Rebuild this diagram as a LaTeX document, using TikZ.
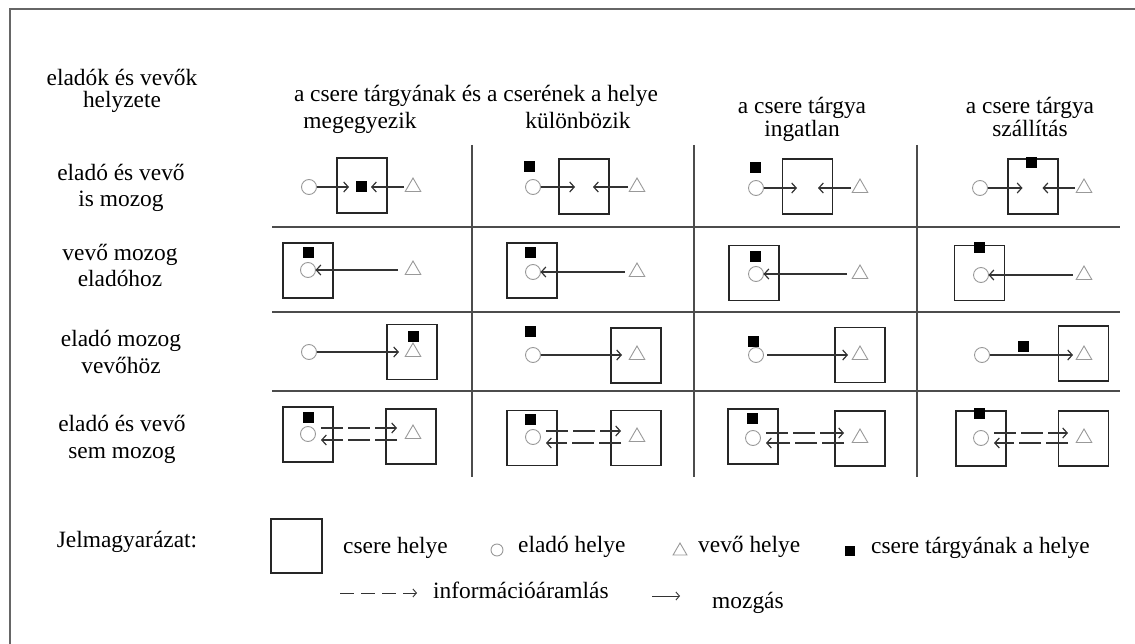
\documentclass[tikz,border=0pt]{standalone}
\usepackage{fontspec}
\setmainfont{Liberation Serif}
\usetikzlibrary{arrows.meta,shapes.geometric}

\begin{document}
\begin{tikzpicture}[x=1pt,y=-1pt,
    felirat/.style={align=center,font=\fontsize{23.4}{26.5}\selectfont,inner sep=0pt,anchor=base},
    fejlec/.style={felirat,font=\fontsize{23.4}{23}\selectfont},
    racs/.style={draw=black!70,line width=1.4pt},
    hely/.style={draw=black!85,line width=1.4pt,minimum width=50pt,minimum height=55pt,inner sep=0pt},
    elado/.style={circle,draw=black!40,line width=0.9pt,minimum size=15pt,inner sep=0pt},
    vevo/.style={regular polygon,regular polygon sides=3,draw=black!40,line width=0.9pt,minimum size=18pt,inner sep=0pt},
    targy/.style={fill=black,minimum size=11pt,inner sep=0pt},
    mozgas/.style={draw=black!80,line width=1.2pt,-{Straight Barb[length=4.5pt,width=10pt]}},
    info/.style={mozgas,dash pattern=on 22pt off 5pt}]
  \useasboundingbox (0,0) rectangle (1135,644);
  \draw[black!60,line width=1.5pt] (1135,9) -- (10,9) -- (10,644);

  % fejlec
  \node[fejlec,font=\fontsize{23.4}{22}\selectfont] (helyzet) at (122,108) {eladók és vevők\\helyzete};
  \node[felirat] (targyhely) at (476,102) {a csere tárgyának és a cserének a helye};
  \node[felirat] (megegyezik) at (360,129) {megegyezik};
  \node[felirat] (kulonbozik) at (578,129) {különbözik};
  \node[fejlec] (ingatlan) at (802,137) {a csere tárgya\\ingatlan};
  \node[fejlec] (szallitas) at (1030,137) {a csere tárgya\\szállítás};

  \node[felirat] (sor1) at (121,207) {eladó és vevő\\is mozog};
  \node[felirat] (sor2) at (120,287) {vevő mozog\\eladóhoz};
  \node[felirat] (sor3) at (121,373) {eladó mozog\\vevőhöz};
  \node[felirat] (sor4) at (122,458) {eladó és vevő\\sem mozog};

  \foreach \x in {472,694,917}
    \draw[racs] (\x,145) -- (\x,477);
  \foreach \y in {227,312,391}
    \draw[racs] (272,\y) -- (1120,\y);

  % 1. sor
  \node[hely] (h11) at (362,185.5) {};
  \node[elado] (e11) at (309,187) {};
  \node[vevo] (v11) at (413,187) {};
  \node[targy] (t11) at (361,187) {};
  \draw[mozgas,shorten <=7.5pt,shorten >=12pt] (e11.center) -- (t11.center);
  \draw[mozgas,shorten <=9pt,shorten >=10pt] (v11.center) -- (t11.center);

  \node[hely] (h12) at (584,186.5) {};
  \node[elado] (e12) at (533,187) {};
  \node[vevo] (v12) at (637,187) {};
  \node[targy] (t12) at (529,167) {};
  \draw[mozgas,shorten <=7.5pt,shorten >=9pt] (e12.center) -- (e12 -| h12);
  \draw[mozgas,shorten <=9pt,shorten >=9pt] (v12.center) -- (v12 -| h12);

  \node[hely] (h13) at (807.5,186.5) {};
  \node[elado] (e13) at (756,188) {};
  \node[vevo] (v13) at (860,188) {};
  \node[targy] (t13) at (755,168) {};
  \draw[mozgas,shorten <=7.5pt,shorten >=10.5pt] (e13.center) -- (e13 -| h13);
  \draw[mozgas,shorten <=9pt,shorten >=10.5pt] (v13.center) -- (v13 -| h13);

  \node[hely] (h14) at (1033,186.5) {};
  \node[elado] (e14) at (980,188) {};
  \node[vevo] (v14) at (1084,188) {};
  \node[targy] (t14) at (1031,163) {};
  \draw[mozgas,shorten <=7.5pt,shorten >=10.5pt] (e14.center) -- (e14 -| h14);
  \draw[mozgas,shorten <=9pt,shorten >=9.5pt] (v14.center) -- (v14 -| h14);

  % 2. sor
  \node[hely] (h21) at (308,270.5) {};
  \node[elado] (e21) at (308,270) {};
  \node[vevo] (v21) at (413,270) {};
  \node[targy] (t21) at (308,253) {};
  \draw[mozgas,shorten <=15pt,shorten >=7.5pt] (v21.center) -- (e21.center);

  \node[hely] (h22) at (532,270.5) {};
  \node[elado] (e22) at (533,272) {};
  \node[vevo] (v22) at (637,272) {};
  \node[targy] (t22) at (530,253) {};
  \draw[mozgas,shorten <=12pt,shorten >=7.5pt] (v22.center) -- (e22.center);

  \node[hely] (h23) at (754,273) {};
  \node[elado] (e23) at (756,274) {};
  \node[vevo] (v23) at (860,274) {};
  \node[targy] (t23) at (755,257) {};
  \draw[mozgas,shorten <=13pt,shorten >=7.5pt] (v23.center) -- (e23.center);

  \node[hely] (h24) at (979.5,273) {};
  \node[elado] (e24) at (981,275) {};
  \node[vevo] (v24) at (1084,275) {};
  \node[targy] (t24) at (979,248) {};
  \draw[mozgas,shorten <=11pt,shorten >=7.5pt] (v24.center) -- (e24.center);

  % 3. sor
  \node[hely] (h31) at (412,352) {};
  \node[elado] (e31) at (309,352) {};
  \node[vevo] (v31) at (413,352) {};
  \node[targy] (t31) at (413,336) {};
  \draw[mozgas,shorten <=7.5pt,shorten >=14pt] (e31.center) -- (v31.center);

  \node[hely] (h32) at (636,355.5) {};
  \node[elado] (e32) at (533,355) {};
  \node[vevo] (v32) at (637,355) {};
  \node[targy] (t32) at (530,331) {};
  \draw[mozgas,shorten <=7.5pt,shorten >=15pt] (e32.center) -- (v32.center);

  \node[hely] (h33) at (860,355) {};
  \node[elado] (e33) at (756,355) {};
  \node[vevo] (v33) at (860,355) {};
  \node[targy] (t33) at (753,341) {};
  \draw[mozgas,shorten <=11pt,shorten >=12pt] (e33.center) -- (v33.center);

  \node[hely] (h34) at (1083.5,353.5) {};
  \node[elado] (e34) at (982,355) {};
  \node[vevo] (v34) at (1084,355) {};
  \draw[mozgas,shorten <=7.5pt,shorten >=11pt] (e34.center) -- (v34.center);
  \node[targy] (t34) at (1023,346) {};

  % 4. sor
  \node[hely] (h41) at (308,434.5) {};
  \node[hely] (g41) at (411,436.5) {};
  \node[elado] (e41) at (308,434) {};
  \node[vevo] (v41) at (413,434) {};
  \node[targy] (t41) at (308,417) {};
  \draw[info,shorten <=13pt,shorten >=16pt] ([yshift=6pt]e41.center) -- ([yshift=6pt]v41.center);
  \draw[info,shorten <=16pt,shorten >=13pt] ([yshift=-6pt]v41.center) -- ([yshift=-6pt]e41.center);

  \node[hely] (h42) at (532,438) {};
  \node[hely] (g42) at (636,438) {};
  \node[elado] (e42) at (533,437) {};
  \node[vevo] (v42) at (637,437) {};
  \node[targy] (t42) at (530,419) {};
  \draw[info,shorten <=13pt,shorten >=16pt] ([yshift=6pt]e42.center) -- ([yshift=6pt]v42.center);
  \draw[info,shorten <=16pt,shorten >=13pt] ([yshift=-6pt]v42.center) -- ([yshift=-6pt]e42.center);

  \node[hely] (h43) at (753,436.5) {};
  \node[hely] (g43) at (860,438.5) {};
  \node[elado] (e43) at (753,438) {};
  \node[vevo] (v43) at (860,438) {};
  \node[targy] (t43) at (752,418) {};
  \draw[info,shorten <=13pt,shorten >=16pt] ([yshift=5pt]e43.center) -- ([yshift=5pt]v43.center);
  \draw[info,shorten <=16pt,shorten >=13pt] ([yshift=-5pt]v43.center) -- ([yshift=-5pt]e43.center);

  \node[hely] (h44) at (981,438.5) {};
  \node[hely] (g44) at (1083.5,438.5) {};
  \node[elado] (e44) at (981,438) {};
  \node[vevo] (v44) at (1084,438) {};
  \node[targy] (t44) at (979,413) {};
  \draw[info,shorten <=13pt,shorten >=16pt] ([yshift=5pt]e44.center) -- ([yshift=5pt]v44.center);
  \draw[info,shorten <=16pt,shorten >=13pt] ([yshift=-5pt]v44.center) -- ([yshift=-5pt]e44.center);

  % jelmagyarazat
  \node[felirat] (jelmagyarazat) at (127,547) {Jelmagyarázat:};
  \node[hely,minimum width=51pt,minimum height=54pt] (lhely) at (296.5,546) {};
  \node[felirat,anchor=base west] (lhelytxt) at (343,553) {csere helye};
  \node[elado,minimum size=12pt] (lelado) at (497,550) {};
  \node[felirat,anchor=base west] (leladotxt) at (518,552) {eladó helye};
  \node[vevo,minimum size=16pt] (lvevo) at (680,551) {};
  \node[felirat,anchor=base west] (lvevotxt) at (698,552) {vevő helye};
  \node[targy,minimum size=10pt] (ltargy) at (850,551) {};
  \node[felirat,anchor=base west] (ltargytxt) at (871,553) {csere tárgyának a helye};

  \coordinate (linfo1) at (340,593);
  \coordinate (linfo2) at (417,593);
  \draw[info,line width=0.9pt,dash pattern=on 14pt off 7pt,-{Straight Barb[length=3.5pt,width=8pt]}] (linfo1) -- (linfo2);
  \node[felirat,anchor=base west] (linfotxt) at (433,598) {információáramlás};
  \coordinate (lmozgas1) at (652,596);
  \coordinate (lmozgas2) at (680,596);
  \draw[mozgas,line width=0.9pt,-{Straight Barb[length=3.5pt,width=8pt]}] (lmozgas1) -- (lmozgas2);
  \node[felirat,anchor=base west] (lmozgastxt) at (712,608) {mozgás};
\end{tikzpicture}
\end{document}
